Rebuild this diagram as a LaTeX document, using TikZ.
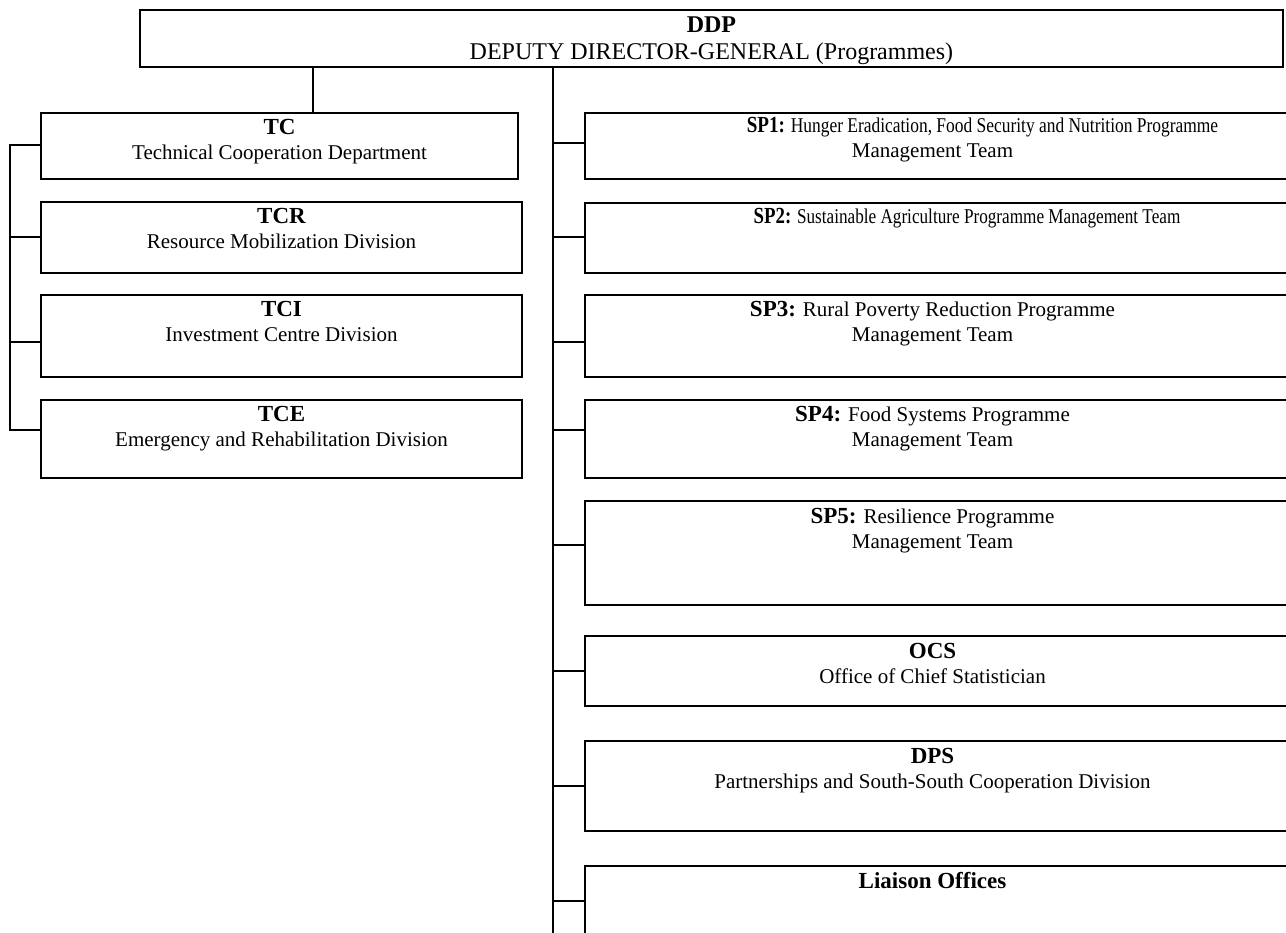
\documentclass[tikz,border=0pt]{standalone}
\usepackage{graphicx}
\usepackage{fontspec}
\setmainfont{Liberation Serif}
\newcommand{\ttl}[1]{{\fontsize{23}{25}\selectfont\bfseries #1}}
\newcommand{\orgtext}[4]{\parbox[t][#2][t]{#1}{\centering\fontsize{21}{25}\selectfont\rule{0pt}{#3}#4\par}}
% right column: text block centred 5pt left of the box centre
\newcommand{\rtext}[3]{\orgtext{695pt}{#1}{#2}{#3}\hspace*{10pt}}
\tikzset{
  orgbox/.style={draw, line width=1.6pt, rectangle, inner sep=0pt, outer sep=0pt, anchor=north west},
  conn/.style={line width=1.6pt}
}
\begin{document}
\begin{tikzpicture}[x=1pt,y=-1pt]
\useasboundingbox (0,0) rectangle (1286,933);
% top
\node[orgbox] (ddp) at (140,10) {\parbox[t][57pt][t]{1143pt}{\centering\fontsize{24}{27}\selectfont\rule{0pt}{23pt}{\bfseries DDP}\\DEPUTY DIRECTOR-GENERAL (Programmes)\par}};
% left column
\node[orgbox] (tc)  at (41,113) {\orgtext{477pt}{66pt}{22pt}{\ttl{TC}\\Technical Cooperation Department}};
\node[orgbox] (tcr) at (41,202) {\orgtext{481pt}{71pt}{22pt}{\ttl{TCR}\\Resource Mobilization Division}};
\node[orgbox] (tci) at (41,295) {\orgtext{481pt}{82pt}{22pt}{\ttl{TCI}\\Investment Centre Division}};
\node[orgbox] (tce) at (41,400) {\orgtext{481pt}{78pt}{21pt}{\ttl{TCE}\\Emergency and Rehabilitation Division}};
% right column
\node[orgbox] (sp1) at (585,113) {\rtext{66pt}{20pt}{\hspace*{100pt}\scalebox{0.83}[1]{\ttl{SP1:} Hunger Eradication, Food Security and Nutrition Programme}\\Management Team}};
\node[orgbox] (sp2) at (585,203) {\rtext{70pt}{21pt}{\hspace*{69pt}\scalebox{0.818}[1]{\ttl{SP2:} Sustainable Agriculture Programme Management Team}}};
\node[orgbox] (sp3) at (585,295) {\rtext{82pt}{22pt}{\ttl{SP3:} Rural Poverty Reduction Programme\\Management Team}};
\node[orgbox] (sp4) at (585,400) {\rtext{78pt}{21pt}{\ttl{SP4:} Food Systems Programme\\Management Team}};
\node[orgbox] (sp5) at (585,501) {\rtext{104pt}{22pt}{\ttl{SP5:} Resilience Programme\\Management Team}};
\node[orgbox] (ocs) at (585,636) {\rtext{70pt}{22pt}{\ttl{OCS}\\Office of Chief Statistician}};
\node[orgbox] (dps) at (585,741) {\rtext{90pt}{22pt}{\ttl{DPS}\\Partnerships and South-South Cooperation Division}};
\node[orgbox] (lia) at (585,866) {\rtext{100pt}{22pt}{\ttl{Liaison Offices}}};
% connectors from the top box
\coordinate (v1) at (313,0);
\coordinate (v2) at (553,0);
\coordinate (busend) at (553,940);
\draw[conn] (v1 |- ddp.south) -- (v1 |- tc.north);
\draw[conn] (v2 |- ddp.south) -- (busend);
% right branches
\coordinate (r1) at (553,143);
\coordinate (r2) at (553,237);
\coordinate (r3) at (553,342);
\coordinate (r4) at (553,430);
\coordinate (r5) at (553,545);
\coordinate (r6) at (553,671);
\coordinate (r7) at (553,786);
\coordinate (r8) at (553,901);
\draw[conn] (r1) -- (r1 -| sp1.west);
\draw[conn] (r2) -- (r2 -| sp2.west);
\draw[conn] (r3) -- (r3 -| sp3.west);
\draw[conn] (r4) -- (r4 -| sp4.west);
\draw[conn] (r5) -- (r5 -| sp5.west);
\draw[conn] (r6) -- (r6 -| ocs.west);
\draw[conn] (r7) -- (r7 -| dps.west);
\draw[conn] (r8) -- (r8 -| lia.west);
% left bus
\coordinate (l1) at (10,145);
\coordinate (l2) at (10,237);
\coordinate (l3) at (10,342);
\coordinate (l4) at (10,430);
\draw[conn] (l1 -| tc.west) -- (l1) -- (l4) -- (l4 -| tce.west);
\draw[conn] (l2) -- (l2 -| tcr.west);
\draw[conn] (l3) -- (l3 -| tci.west);
\end{tikzpicture}
\end{document}
